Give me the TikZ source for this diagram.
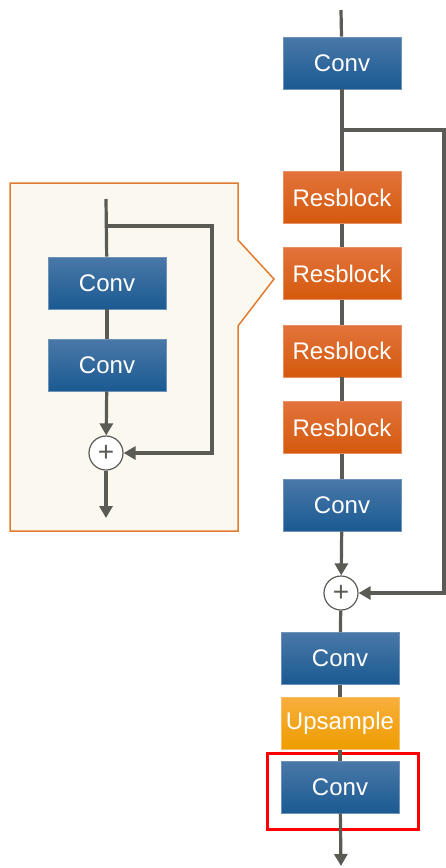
\documentclass[tikz,border=0pt]{standalone}
\usepackage{fontspec}
\setmainfont{Liberation Sans}
\usepackage{xcolor}
\usepackage{tikz}
\usetikzlibrary{arrows.meta}
\definecolor{convtop}{HTML}{4A78A8}
\definecolor{convbot}{HTML}{1A5A92}
\definecolor{restop}{HTML}{E2733C}
\definecolor{resbot}{HTML}{D4590C}
\definecolor{uptop}{HTML}{F8AE3C}
\definecolor{upbot}{HTML}{EE9D00}
\definecolor{linec}{HTML}{5B5B55}
\definecolor{cream}{HTML}{FAF8EF}
\definecolor{callout}{HTML}{E27B30}

\begin{document}
\begin{tikzpicture}[x=1pt,y=-1pt,
  conv/.style={rectangle,draw=convtop!80!white,line width=0.6pt,top color=convtop,bottom color=convbot,
    text=white,minimum width=118pt,minimum height=52pt,inner sep=0pt,font=\fontsize{24}{28}\selectfont},
  res/.style={conv,draw=restop!80!white,top color=restop,bottom color=resbot},
  upsample/.style={conv,draw=uptop!80!white,top color=uptop,bottom color=upbot},
  sum/.style={circle,draw=linec,line width=1.2pt,fill=white,minimum size=34pt,inner sep=0pt,
    text=linec,font=\fontsize{28}{30}\selectfont},
  link/.style={draw=linec,line width=3.2pt},
  arr/.style={link,-{Triangle[length=12pt,width=13pt]}}]
\useasboundingbox (0,0) rectangle (446,868);

% detail of one resblock
\draw[callout,fill=cream,line width=1.5pt] (10,183) -- (238,183) -- (238,240) -- (274,279)
  -- (238,326) -- (238,531) -- (10,531) -- cycle;
\coordinate (iin) at (106,199);
\coordinate (isplit) at (106,226);
\coordinate (icorner) at (212,226);
\coordinate (iout) at (106,518);
\node[conv] (iconv1) at (107,283) {Conv};
\node[conv] (iconv2) at (107,365) {Conv};
\node[sum] (iplus) at (106,453) {+};
\draw[link] (iin) -- (iconv1);
\draw[link] (iconv1) -- (iconv2);
\draw[arr] (iconv2) -- (iplus);
\draw[arr] (isplit) -- (icorner) |- (iplus);
\draw[arr] (iplus) -- (iout);

% main column
\coordinate (in) at (341,10);
\coordinate (split) at (341,130);
\coordinate (corner) at (444,130);
\coordinate (out) at (341,866);
\node[conv] (conv1) at (342,63) {Conv};
\node[res] (res1) at (342,197.5) {Resblock};
\node[res] (res2) at (342,273.5) {Resblock};
\node[res] (res3) at (342,351) {Resblock};
\node[res] (res4) at (342,427.5) {Resblock};
\node[conv] (conv2) at (342,505) {Conv};
\node[sum] (plus) at (341,593) {+};
\node[conv] (conv3) at (340,658.5) {Conv};
\node[upsample] (up) at (340,723.5) {Upsample};
\node[conv] (conv4) at (340,787) {Conv};
\draw[red,line width=3pt] (267,753) rectangle (418,829);

\draw[link] (in) -- (conv1);
\draw[link] (conv1) -- (res1);
\foreach \a/\b in {res1/res2,res2/res3,res3/res4,res4/conv2}
  \draw[link] (\a) -- (\b);
\draw[arr] (conv2) -- (plus);
\draw[arr] (split) -- (corner) |- (plus);
\draw[link] (plus) -- (conv3);
\draw[link] (conv3) -- (up);
\draw[link] (up) -- (conv4);
\draw[arr] (conv4) -- (out);
\end{tikzpicture}
\end{document}
